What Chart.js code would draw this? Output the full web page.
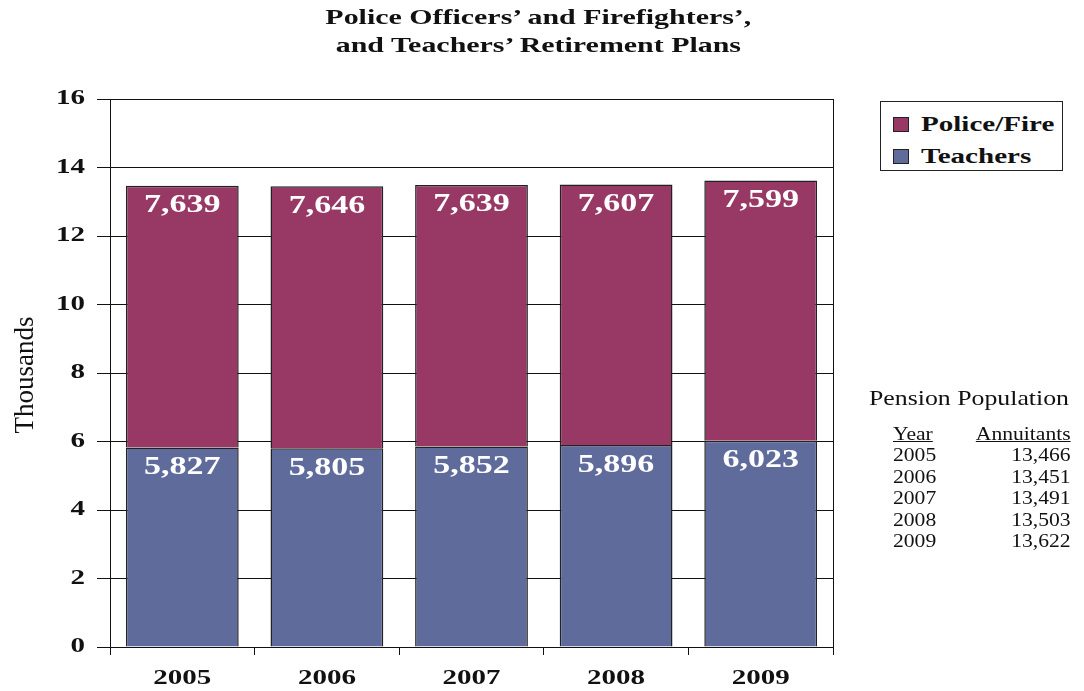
<!DOCTYPE html>
<html>
<head>
<meta charset="utf-8">
<script src="https://cdn.jsdelivr.net/npm/chart.js@4"></script>
<style>
  body { margin: 0; background: #fff; }
  #wrap { position: relative; width: 1084px; height: 691px; }
  #titulo {
    position: absolute; left: 0; top: 3px; width: 1076px; text-align: center;
    font-family: "Liberation Serif", serif; font-weight: bold; font-size: 22px;
    line-height: 28px; color: #111; transform: scaleX(1.36); transform-origin: 537px 0;
  }
  #legend {
    position: absolute; left: 880px; top: 101px; width: 181px; height: 68px;
    border: 1.5px solid #222; background: #fff;
    font-family: "Liberation Serif", serif; font-weight: bold; font-size: 22px; color: #111;
  }
  .leg { position: absolute; left: 12px; height: 22px; line-height: 22px; white-space: nowrap; }
  .leg span.box { display: inline-block; width: 14px; height: 13px; border: 1.5px solid #222; margin-right: 12px; vertical-align: -1px; }
  .leg span.txt { display: inline-block; transform: scaleX(1.32); transform-origin: 0 0; }
  #tabla {
    position: absolute; left: 869px; top: 386px; width: 180px;
    font-family: "Liberation Serif", serif; color: #111;
    transform: scaleX(1.2); transform-origin: 0 0;
  }
  #tabla .tit { font-size: 21.5px; margin-bottom: 12px; white-space: nowrap; }
  #tabla table { border-collapse: collapse; font-size: 18px; margin-left: 20px; width: 148px; }
  #tabla td { padding: 0; line-height: 21.6px; }
  #tabla td.num { text-align: right; }
  #tabla th { font-weight: normal; text-decoration: underline; padding: 0; line-height: 22px; }
</style>
</head>
<body>
<div id="wrap">
  <canvas id="grafico" width="1084" height="691"></canvas>
  <div id="titulo">Police Officers’ and Firefighters’,<br>and Teachers’ Retirement Plans</div>
  <div id="legend">
    <div class="leg" style="top:11px"><span class="box" style="background:#983865"></span><span class="txt">Police/Fire</span></div>
    <div class="leg" style="top:43px"><span class="box" style="background:#5f6b9b"></span><span class="txt">Teachers</span></div>
  </div>
  <div id="tabla">
    <div class="tit">Pension Population</div>
    <table>
      <thead><tr><th style="text-align:left">Year</th><th style="text-align:right">Annuitants</th></tr></thead>
      <tbody id="filas"></tbody>
    </table>
  </div>
</div>
<script>
// Datos del gráfico
const anios = ["2005", "2006", "2007", "2008", "2009"];
const maestros = [5827, 5805, 5852, 5896, 6023];     // Teachers
const policias = [7639, 7646, 7639, 7607, 7599];     // Police/Fire
const anuitantes = [13466, 13451, 13491, 13503, 13622];
const marcasY = [0, 2, 4, 6, 8, 10, 12, 14, 16];

const colorPolicia = '#983865';
const colorMaestro = '#5f6b9b';
const serif = '"Liberation Serif", "Times New Roman", serif';

// Tabla de población
const filas = document.getElementById('filas');
anios.forEach(function (a, i) {
  const tr = document.createElement('tr');
  tr.innerHTML = '<td>' + a + '</td><td class="num">' + anuitantes[i].toLocaleString('en-US') + '</td>';
  filas.appendChild(tr);
});

// Texto ensanchado (el original usa letras anchas)
function textoAncho(ctx, texto, x, y, escala, alinear) {
  ctx.save();
  ctx.translate(x, y);
  ctx.scale(escala, 1);
  ctx.textAlign = alinear;
  ctx.fillText(texto, 0, 0);
  ctx.restore();
}

// Etiquetas de ejes, valores dentro de barras, marco y título del eje Y
const dibujos = {
  id: 'dibujos',
  afterDatasetsDraw(chart) {
    const ctx = chart.ctx;
    ctx.save();
    ctx.fillStyle = '#fff';
    ctx.font = 'bold 25px ' + serif;
    ctx.textBaseline = 'middle';
    chart.data.datasets.forEach(function (ds, d) {
      const meta = chart.getDatasetMeta(d);
      meta.data.forEach(function (bar, i) {
        textoAncho(ctx, ds.crudo[i].toLocaleString('en-US'), bar.x, bar.y + 20, 1.36, 'center');
      });
    });
    ctx.restore();
  },
  afterDraw(chart) {
    const a = chart.chartArea, ctx = chart.ctx;
    const ex = chart.scales.x, ey = chart.scales.y;
    ctx.save();
    // Marco del área
    ctx.strokeStyle = '#111';
    ctx.lineWidth = 1;
    ctx.strokeRect(a.left + 0.5, a.top + 0.5, a.right - a.left, a.bottom - a.top);

    // Marcas del eje Y y del eje X
    ctx.fillStyle = '#111';
    ctx.font = 'bold 20px ' + serif;
    ctx.textBaseline = 'middle';
    ey.ticks.forEach(function (t, i) {
      textoAncho(ctx, String(t.value), 85, ey.getPixelForTick(i), 1.45, 'right');
    });
    ex.ticks.forEach(function (t, i) {
      textoAncho(ctx, anios[i], ex.getPixelForTick(i), a.bottom + 32, 1.45, 'center');
    });

    // Título "Thousands"
    ctx.font = '27px ' + serif;
    ctx.textAlign = 'center';
    ctx.translate(26, (a.top + a.bottom) / 2 + 2);
    ctx.rotate(-Math.PI / 2);
    ctx.fillText('Thousands', 0, 0);
    ctx.restore();
  }
};

new Chart(document.getElementById('grafico'), {
  type: 'bar',
  data: {
    labels: anios,
    datasets: [
      { label: 'Teachers', crudo: maestros, data: maestros.map(v => v / 1000),
        backgroundColor: colorMaestro, borderColor: '#222', borderWidth: 1.5 },
      { label: 'Police/Fire', crudo: policias, data: policias.map(v => v / 1000),
        backgroundColor: colorPolicia, borderColor: '#222', borderWidth: 1.5 }
    ]
  },
  options: {
    responsive: false,
    animation: false,
    layout: { padding: { left: 0, right: 251, top: 99, bottom: 0 } },
    datasets: { bar: { barPercentage: 0.78, categoryPercentage: 1 } },
    plugins: {
      legend: { display: false },
      tooltip: { enabled: false },
      title: { display: false }
    },
    scales: {
      x: {
        stacked: true,
        afterFit: function (eje) { eje.height = 44; },
        grid: { drawOnChartArea: false, color: '#111', tickLength: 8, offset: true },
        border: { color: '#111' },
        ticks: { display: false }
      },
      y: {
        stacked: true,
        min: 0, max: 16,
        afterFit: function (eje) { eje.width = 110; },
        afterBuildTicks: function (eje) { eje.ticks = marcasY.map(v => ({ value: v })); },
        grid: { color: '#111', tickLength: 13 },
        border: { color: '#111' },
        ticks: { display: false }
      }
    }
  },
  plugins: [dibujos]
});
</script>
</body>
</html>
